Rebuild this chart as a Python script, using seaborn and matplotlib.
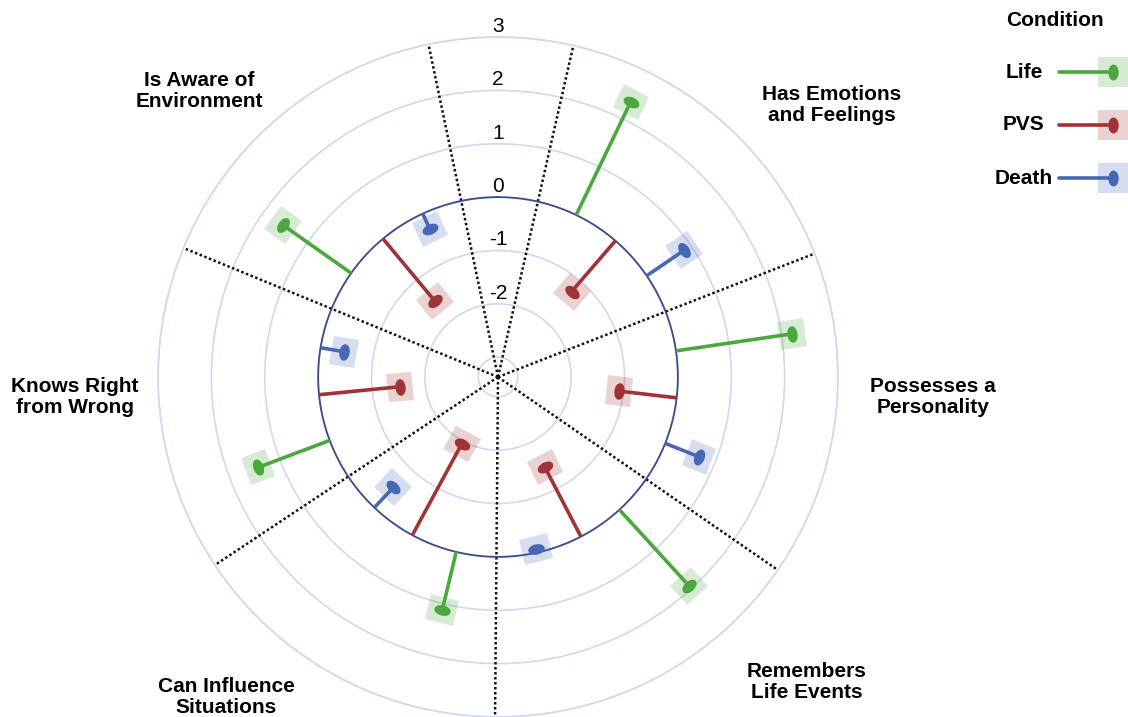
import numpy as np
import pandas as pd
import matplotlib
matplotlib.use('Agg')
import matplotlib.pyplot as plt
import seaborn as sns
from matplotlib.markers import MarkerStyle
from matplotlib.transforms import Affine2D

# categories clockwise from the top gap
categories = ['Has Emotions\nand Feelings', 'Possesses a\nPersonality', 'Remembers\nLife Events',
              'Can Influence\nSituations', 'Knows Right\nfrom Wrong', 'Is Aware of\nEnvironment']
conditions = ['Life', 'PVS', 'Death']
life = [2.36, 2.20, 1.94, 1.12, 1.43, 1.57]
pvs = [-1.26, -1.08, -1.46, -1.94, -1.53, -1.52]
death = [0.85, 0.68, -0.07, -0.52, -0.45, -0.32]
r_ticks = [-3, -2, -1, 0, 1, 2, 3]
r_labels = ['-2', '-1', '0', '1', '2', '3']

colors = {'Life': '#4aa83c', 'PVS': '#a03335', 'Death': '#4766b6'}

df = pd.DataFrame({'category': categories * 3,
                   'condition': np.repeat(conditions, len(categories)),
                   'value': life + pvs + death})

# layout (pixels / degrees)
label_xy = [(832, 105), (933, 397), (807, 682), (226, 697), (75, 397), (199, 91)]
start, width = 12.8, 55.9
offsets = {'Life': -15, 'PVS': 0, 'Death': 15}
rmin, rmax = -3.37, 3.0

sns.set_theme(style='white')
plt.rcParams['font.family'] = ['Liberation Sans', 'DejaVu Sans']
plt.rcParams['text.color'] = 'black'

fig = plt.figure(figsize=(11.28, 7.17), dpi=100)
ax = fig.add_axes([0.1401, 0.0, 0.6028, 0.9484], projection='polar')
ax.set_theta_zero_location('N')
ax.set_theta_direction(-1)
ax.set_ylim(rmin, rmax)
ax.set_yticks(r_ticks)
ax.set_yticklabels([])
ax.set_xticks([])
ax.yaxis.grid(True, color='#d2d7f0', lw=1.2)
ax.spines['polar'].set_color('#d2d7f0')
ax.spines['polar'].set_linewidth(1.2)
ax.set_facecolor('none')

# zero ring
full = np.linspace(0, 2 * np.pi, 400)
ax.plot(full, np.zeros_like(full), color='#3b4d8e', lw=1.3, zorder=2)

# dotted sector boundaries
for k in range(len(categories) + 1):
    th = np.deg2rad(start + width * k)
    ax.plot([th, th], [rmin, rmax], color='#111111', ls=(0, (1, 1)), lw=1.8, zorder=1)

# lollipops
for _, row in df.iterrows():
    i = categories.index(row['category'])
    cond = row['condition']
    v = row['value']
    deg = start + width * (i + 0.5) + offsets[cond]
    th = np.deg2rad(deg)
    c = colors[cond]
    sq = MarkerStyle('s', transform=Affine2D().scale(1.1, 1.0).rotate_deg(-deg))
    ax.plot([th], [v], marker=sq, ms=18.5, color=c, alpha=0.22, mew=0, ls='none', zorder=2)
    ax.plot([th, th], [0, v], color=c, lw=2.6, solid_capstyle='butt', zorder=3)
    el = MarkerStyle('o', transform=Affine2D().scale(1.0, 0.62).rotate_deg(-deg))
    ax.plot([th], [v], marker=el, ms=12, color=c, mew=0, ls='none', zorder=4)

# radial labels
for t in r_labels:
    ax.text(0, int(t) + 0.2, t, ha='center', va='center', fontsize=15, color='black')

# category labels
for (x, y), cat in zip(label_xy, categories):
    fig.text(x / 1128, 1 - y / 717, cat, ha='center', va='center', fontsize=15,
             fontweight='bold', linespacing=1.15, color='black')

# legend
lax = fig.add_axes([0, 0, 1, 1])
lax.set_xlim(0, 1128)
lax.set_ylim(717, 0)
lax.axis('off')
lax.text(1055, 21, 'Condition', ha='center', va='center', fontsize=15, fontweight='bold', color='black')
for k, cond in enumerate(conditions):
    y = 72 + 53 * k
    c = colors[cond]
    lax.text(1024, y, cond, ha='center', va='center', fontsize=15, fontweight='bold', color='black')
    lax.plot([1113], [y], marker='s', ms=22, color=c, alpha=0.22, mew=0, ls='none')
    lax.plot([1059, 1113], [y, y], color=c, lw=2.6)
    el = MarkerStyle('o', transform=Affine2D().scale(1.0, 0.65).rotate_deg(90))
    lax.plot([1113], [y], marker=el, ms=11.5, color=c, mew=0, ls='none')

fig.savefig('out.png', dpi=100)
